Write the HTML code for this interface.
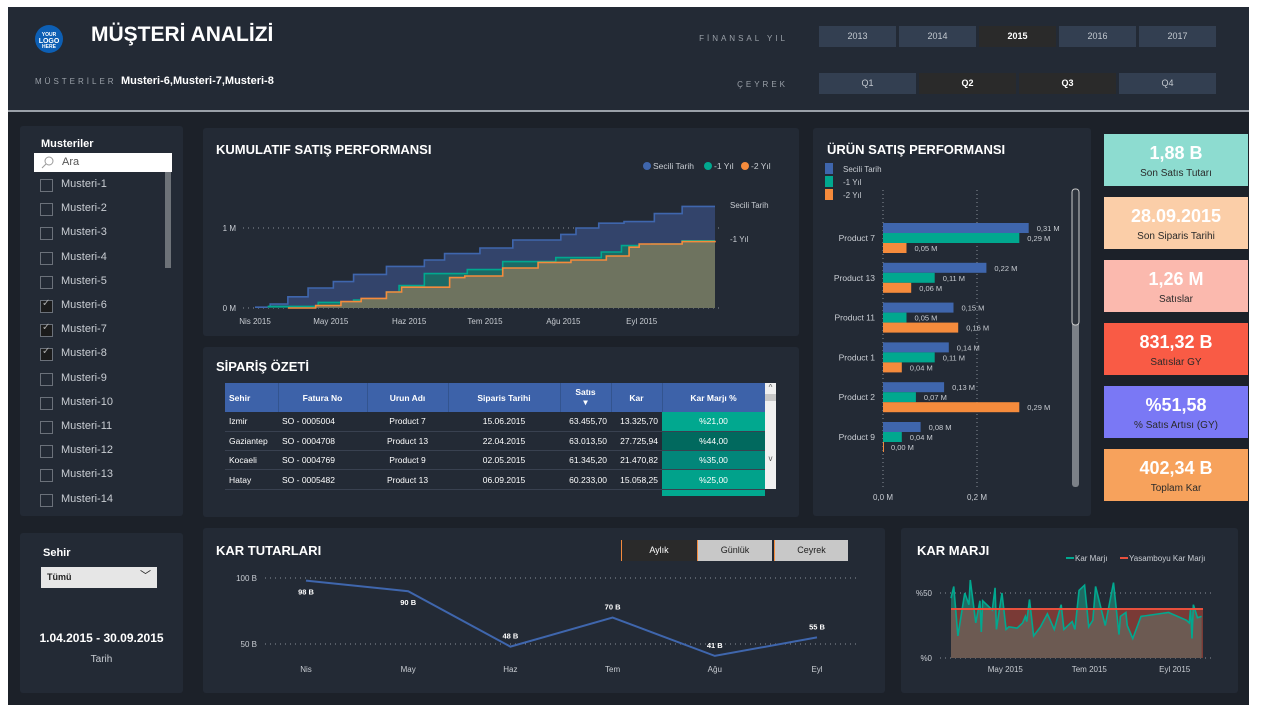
<!DOCTYPE html>
<html><head><meta charset="utf-8">
<style>
*{box-sizing:border-box;margin:0;padding:0}
body{width:1261px;height:713px;background:#fff;font-family:"Liberation Sans",sans-serif;position:relative;overflow:hidden;color:#fff}
.abs{position:absolute}
#frame{left:8px;top:7px;width:1241px;height:698px;background:#1c2129}
#header{left:8px;top:7px;width:1241px;height:103px;background:#232a35}
#sep{left:8px;top:110px;width:1241px;height:2px;background:#9aa0a8}
.panel{position:absolute;background:#232a35;border-radius:3px}
.ttl{position:absolute;font-weight:bold;font-size:13px;color:#fff}
.btn{position:absolute;height:21px;background:#333f51;color:#c4c9d0;font-size:9px;text-align:center;line-height:21px}
.btn.sel{background:#2a2a2a;color:#fff;font-weight:bold}
.kpi{position:absolute;left:1104px;width:144px;height:52px;text-align:center}
.kpi .v{font-size:18px;font-weight:bold;color:#fff;margin-top:9px}
.kpi .l{font-size:10px;color:#2a2a2a;margin-top:4px}
.cb{position:absolute;left:40px;width:13px;height:13px;border:1px solid #6b717a}
.cbl{position:absolute;left:61px;font-size:11px;color:#c9cdd3}
table{border-collapse:collapse}
td,th{font-size:8.5px;height:19.3px;padding:0 4px;border-bottom:1px solid #394150}
th{background:#3d62a9;height:29px;font-weight:bold;border-right:1px solid #33548f;border-bottom:none}
</style></head><body>
<div class="abs" id="frame"></div>
<div class="abs" id="header"></div>
<div class="abs" id="sep"></div>

<svg class="abs" style="left:35px;top:25px" width="30" height="30"><circle cx="14" cy="14" r="14" fill="#0d5fb4"/><text x="14" y="11" font-size="5" font-weight="bold" fill="#fff" text-anchor="middle">YOUR</text><text x="14" y="18" font-size="7" font-weight="bold" fill="#fff" text-anchor="middle">LOGO</text><text x="14" y="23" font-size="5" font-weight="bold" fill="#fff" text-anchor="middle">HERE</text></svg>
<div class="abs" style="left:91px;top:23px;font-size:21px;font-weight:bold">MÜŞTERİ ANALİZİ</div>
<div class="abs" style="left:35px;top:77px;font-size:8px;letter-spacing:3px;color:#9aa0a8">MÜSTERİLER</div>
<div class="abs" style="left:121px;top:75px;font-size:11px;font-weight:bold">Musteri-6,Musteri-7,Musteri-8</div>
<div class="abs" style="left:690px;top:34px;width:98px;text-align:right;font-size:8px;letter-spacing:3px;color:#9aa0a8">FİNANSAL YIL</div>
<div class="abs" style="left:690px;top:80px;width:98px;text-align:right;font-size:8px;letter-spacing:3px;color:#9aa0a8">ÇEYREK</div>
<div class="btn" style="left:819px;top:26px;width:77px">2013</div>
<div class="btn" style="left:899px;top:26px;width:77px">2014</div>
<div class="btn sel" style="left:979px;top:26px;width:77px">2015</div>
<div class="btn" style="left:1059px;top:26px;width:77px">2016</div>
<div class="btn" style="left:1139px;top:26px;width:77px">2017</div>
<div class="btn" style="left:819px;top:73px;width:97px">Q1</div>
<div class="btn sel" style="left:919px;top:73px;width:97px">Q2</div>
<div class="btn sel" style="left:1019px;top:73px;width:97px">Q3</div>
<div class="btn" style="left:1119px;top:73px;width:97px">Q4</div>

<div class="panel" style="left:20px;top:126px;width:163px;height:390px"></div>
<div class="abs" style="left:41px;top:138px;font-size:11px;font-weight:bold">Musteriler</div>
<div class="abs" style="left:34px;top:153px;width:138px;height:19px;background:#fff;color:#555;font-size:11px;line-height:19px;padding-left:28px">Ara</div>
<svg class="abs" style="left:41px;top:155px" width="14" height="14"><circle cx="8" cy="6" r="4" stroke="#999" fill="none"/><line x1="5" y1="9" x2="1" y2="13" stroke="#999"/></svg>
<div class="abs" style="left:165px;top:172px;width:6px;height:96px;background:#6d7278"></div>
<div id="custlist"></div>

<div class="panel" style="left:20px;top:533px;width:163px;height:160px"></div>
<div class="abs" style="left:43px;top:547px;font-size:11px;font-weight:bold">Sehir</div>
<div class="abs" style="left:41px;top:567px;width:116px;height:21px;background:#e6e6e6;color:#222;font-size:9px;font-weight:bold;line-height:21px;padding-left:6px">Tümü<span style="position:absolute;right:6px;top:-1px;font-weight:normal;font-size:11px">﹀</span></div>
<div class="abs" style="left:20px;top:631px;width:163px;text-align:center;font-size:12px;font-weight:bold">1.04.2015 - 30.09.2015</div>
<div class="abs" style="left:20px;top:654px;width:163px;text-align:center;font-size:10px;color:#c9cdd3">Tarih</div>

<div class="panel" style="left:203px;top:128px;width:596px;height:208px"></div>
<div class="ttl" style="left:216px;top:142px">KUMULATIF SATIŞ PERFORMANSI</div>
<div class="panel" style="left:203px;top:347px;width:596px;height:170px"></div>
<div class="ttl" style="left:216px;top:359px">SİPARİŞ ÖZETİ</div>
<div class="panel" style="left:813px;top:128px;width:278px;height:388px"></div>
<div class="ttl" style="left:827px;top:142px">ÜRÜN SATIŞ PERFORMANSI</div>
<div class="panel" style="left:203px;top:528px;width:682px;height:165px"></div>
<div class="ttl" style="left:216px;top:543px">KAR TUTARLARI</div>
<div class="panel" style="left:901px;top:528px;width:337px;height:165px"></div>
<div class="ttl" style="left:917px;top:543px">KAR MARJI</div>

<div class="abs" style="left:621px;top:540px;width:75px;height:21px;background:#2a2a2a;border-left:1px solid #f58b3c;font-size:9px;text-align:center;line-height:21px">Aylık</div>
<div class="abs" style="left:697px;top:540px;width:75px;height:21px;background:#c8c8c8;color:#222;border-left:1px solid #f58b3c;font-size:9px;text-align:center;line-height:21px">Günlük</div>
<div class="abs" style="left:774px;top:540px;width:74px;height:21px;background:#c8c8c8;color:#222;border-left:1px solid #f58b3c;font-size:9px;text-align:center;line-height:21px">Ceyrek</div>

<div class="kpi" style="top:134px;background:#8ddcd0"><div class="v">1,88 B</div><div class="l">Son Satıs Tutarı</div></div>
<div class="kpi" style="top:197px;background:#fbcea8"><div class="v">28.09.2015</div><div class="l">Son Siparis Tarihi</div></div>
<div class="kpi" style="top:260px;background:#fbb9ae"><div class="v">1,26 M</div><div class="l">Satıslar</div></div>
<div class="kpi" style="top:323px;background:#f95b45"><div class="v">831,32 B</div><div class="l">Satıslar GY</div></div>
<div class="kpi" style="top:386px;background:#7a78f5"><div class="v">%51,58</div><div class="l">% Satıs Artısı (GY)</div></div>
<div class="kpi" style="top:449px;background:#f7a25c"><div class="v">402,34 B</div><div class="l">Toplam Kar</div></div>

<div class="abs" style="left:225px;top:383px">
<table>
<tr><th style="width:53px;text-align:left">Sehir</th><th style="width:89px">Fatura No</th><th style="width:81px">Urun Adı</th><th style="width:112px">Siparis Tarihi</th><th style="width:51px">Satıs<br>▾</th><th style="width:51px">Kar</th><th style="width:103px">Kar Marjı %</th></tr>
<tr><td>Izmir</td><td>SO - 0005004</td><td style="text-align:center">Product 7</td><td style="text-align:center">15.06.2015</td><td style="text-align:right">63.455,70</td><td style="text-align:right">13.325,70</td><td style="text-align:center;background:#01a88f">%21,00</td></tr>
<tr><td>Gaziantep</td><td>SO - 0004708</td><td style="text-align:center">Product 13</td><td style="text-align:center">22.04.2015</td><td style="text-align:right">63.013,50</td><td style="text-align:right">27.725,94</td><td style="text-align:center;background:#01695e">%44,00</td></tr>
<tr><td>Kocaeli</td><td>SO - 0004769</td><td style="text-align:center">Product 9</td><td style="text-align:center">02.05.2015</td><td style="text-align:right">61.345,20</td><td style="text-align:right">21.470,82</td><td style="text-align:center;background:#02867a">%35,00</td></tr>
<tr><td>Hatay</td><td>SO - 0005482</td><td style="text-align:center">Product 13</td><td style="text-align:center">06.09.2015</td><td style="text-align:right">60.233,00</td><td style="text-align:right">15.058,25</td><td style="text-align:center;background:#01a28b">%25,00</td></tr>
</table></div>
<div class="abs" style="left:662px;top:490px;width:103px;height:6px;background:#01a88f"></div>
<div class="abs" style="left:765px;top:383px;width:11px;height:106px;background:#f0f0f0;color:#555;font-size:8px;text-align:center">^<div style="height:7px;background:#c8c8c8;margin-top:2px"></div><div style="margin-top:53px">v</div></div>

<svg id="svg" class="abs" style="left:0;top:0" width="1261" height="713"></svg>

<script>
const customers=["Musteri-1","Musteri-2","Musteri-3","Musteri-4","Musteri-5","Musteri-6","Musteri-7","Musteri-8","Musteri-9","Musteri-10","Musteri-11","Musteri-12","Musteri-13","Musteri-14"];
const checked=[5,6,7];
const cl=document.getElementById('custlist');
customers.forEach((c,i)=>{
  const y=179+i*24.2;
  const b=document.createElement('div');b.className='cb';b.style.top=y+'px';
  
  
  if(checked.includes(i)){b.style.background='#1b1b1b';b.innerHTML='<span style="position:absolute;left:1px;top:-3px;font-size:10px;color:#aaa">✓</span>';}
  cl.appendChild(b);
  const t=document.createElement('div');t.className='cbl';t.style.top=(y-1)+'px';t.textContent=c;
  
  
  cl.appendChild(t);
});

const S=document.getElementById('svg');const NS='http://www.w3.org/2000/svg';
function mk(tag,attrs,parent){const e=document.createElementNS(NS,tag);for(const k in attrs)e.setAttribute(k,attrs[k]);(parent||S).appendChild(e);return e;}
function txt(x,y,s,attrs){const e=mk('text',Object.assign({x:x,y:y,fill:'#c9cdd3','font-size':8,'font-family':'Liberation Sans, sans-serif'},attrs||{}));e.textContent=s;return e;}

const cumMonths=["Nis 2015","May 2015","Haz 2015","Tem 2015","Ağu 2015","Eyl 2015"];
const cumMonthDays=[0,30,61,91,122,153];
const cumYTicks=[0,1];
const cumYLabels=["0 M","1 M"];
const selDays=[0,6,13,21,31,39,52,67,75,89,102,121,127,136,146,158,169,182];
const selVals=[0.01,0.05,0.14,0.25,0.33,0.42,0.52,0.6,0.68,0.75,0.85,0.92,1.0,1.06,1.08,1.18,1.27,1.27];
const py1Days=[5,25,39,52,57,67,84,98,119,137,145,157,169,182];
const py1Vals=[0.02,0.07,0.1,0.2,0.28,0.43,0.48,0.58,0.63,0.7,0.78,0.8,0.84,0.84];
const py2Days=[13,24,34,42,52,58,77,83,98,112,125,139,148,152,169,182];
const py2Vals=[0.0,0.03,0.08,0.12,0.2,0.26,0.38,0.4,0.5,0.57,0.6,0.65,0.76,0.8,0.83,0.84];
const cx=d=>255+d*(460/182), cy=v=>308-v*80;
const gcum=mk('g',{});


cumYTicks.forEach((t,i)=>{mk('line',{x1:243,x2:722,y1:cy(t),y2:cy(t),stroke:'#8a9099','stroke-dasharray':'1 4'},gcum);txt(236,cy(t)+3,cumYLabels[i],{'text-anchor':'end'});});
cumMonths.forEach((m,i)=>{const t=txt(cx(cumMonthDays[i]),324,m,{'text-anchor':'middle'});});
function stepPts(ds,vs){let p=[];ds.forEach((d,i)=>{if(i>0)p.push([cx(d),cy(vs[i-1])]);p.push([cx(d),cy(vs[i])]);});return p;}
function area(ds,vs,fill,stroke,name){const p=stepPts(ds,vs);const a=mk('path',{d:'M'+cx(ds[0])+','+cy(0)+' L'+p.map(q=>q.join(',')).join(' L')+' L'+cx(ds[ds.length-1])+','+cy(0)+'Z',fill:fill},gcum);
 const l=mk('polyline',{points:p.map(q=>q.join(',')).join(' '),fill:'none',stroke:stroke,'stroke-width':1.6},gcum);}
area(selDays,selVals,'#33446b','#3f66ad','selected-date');
area(py1Days,py1Vals,'#1c6a66','#01a88f','prior-year-1');
area(py2Days,py2Vals,'#6e735f','#f58b3c','prior-year-2');
txt(730,208,'Secili Tarih',{'font-size':8});txt(730,242,'-1 Yıl',{'font-size':8});
[['Secili Tarih','#3f66ad',643],['-1 Yıl','#01a88f',704],['-2 Yıl','#f58b3c',741]].forEach(l=>{const c=mk('circle',{cx:l[2]+4,cy:166,r:4,fill:l[1]});txt(l[2]+10,169,l[0],{'font-size':8.5});});

const products=["Product 7","Product 13","Product 11","Product 1","Product 2","Product 9"];
const barSel=[0.31,0.22,0.15,0.14,0.13,0.08];
const barPy1=[0.29,0.11,0.05,0.11,0.07,0.04];
const barPy2=[0.05,0.06,0.16,0.04,0.29,0.00];
const barTicks=[0,0.2];
const bx=v=>883+v*470;
const gb=mk('g',{});


barTicks.forEach(t=>{mk('line',{x1:bx(t),x2:bx(t),y1:190,y2:488,stroke:'#8a9099','stroke-dasharray':'1 3'},gb);txt(bx(t),500,t.toFixed(1).replace('.',',')+' M',{'text-anchor':'middle'});});
products.forEach((p,i)=>{const yc=238+i*39.8;txt(875,yc+3,p,{'text-anchor':'end','font-size':8.5});
 [[barSel,'#3f66ad'],[barPy1,'#01a88f'],[barPy2,'#f58b3c']].forEach((s,j)=>{const v=s[0][i];const y=yc-15+j*10;
  const r=mk('rect',{x:bx(0),y:y,width:Math.max(v*470,1),height:10,fill:s[1]},gb);
  
  
  txt(bx(v)+8,y+8,v.toFixed(2).replace('.',',')+' M',{'font-size':7.5});});});
[['Secili Tarih','#3f66ad',167],['-1 Yıl','#01a88f',180],['-2 Yıl','#f58b3c',193]].forEach(l=>{const r=mk('rect',{x:825,y:l[2]-4,width:8,height:11,fill:l[1]});txt(843,l[2]+5,l[0]);});
const sb=mk('rect',{x:1072,y:189,width:7,height:298,rx:3,fill:'#7b8087'});
mk('rect',{x:1072,y:189,width:7,height:136,rx:3,fill:'#2d333c',stroke:'#ccc'});

const profMonths=["Nis","May","Haz","Tem","Ağu","Eyl"];
const profVals=[98,90,48,70,41,55];
const profTicks=[50,100];
const px=i=>306+i*102.2, py=v=>644-(v-50)*1.32;
const gp=mk('g',{});


profTicks.forEach(t=>{mk('line',{x1:265,x2:857,y1:py(t),y2:py(t),stroke:'#8a9099','stroke-dasharray':'1 4'},gp);txt(257,py(t)+3,t+' B',{'text-anchor':'end'});});
profMonths.forEach((m,i)=>txt(px(i),672,m,{'text-anchor':'middle'}));
const pl=mk('polyline',{points:profVals.map((v,i)=>px(i)+','+py(v)).join(' '),fill:'none',stroke:'#3f66ad','stroke-width':2},gp);


profVals.forEach((v,i)=>{const above=i>=2;txt(px(i),py(v)+(above? -8:14),v+' B',{'text-anchor':'middle','font-size':7.5,'font-weight':'bold',fill:'#fff'});});

const marginDays=[0,2,5,10,13,14,18,21,22,23,30,32,33,37,40,42,48,52,54,55,57,60,65,70,75,80,82,88,90,93,97,100,103,105,112,118,122,123,127,128,132,138,158,171,173,174,175,176,179,182];
const marginVals=[46,55,17,50,41,60,27,44,20,44,37,54,22,50,22,24,23,27,32,28,45,17,24,34,22,41,22,28,22,52,56,24,29,55,25,58,18,32,35,25,15,32,35,29,27,38,15,41,31,32];
const lifetimeMargin=[37.7];
const marginTicks=[0,50];
const mx=d=>951+d*(252/183), my=v=>658-v*1.3;
const gm=mk('g',{});


marginTicks.forEach(t=>{mk('line',{x1:940,x2:1212,y1:my(t),y2:my(t),stroke:'#8a9099','stroke-dasharray':'1 4'},gm);txt(932,my(t)+3,'%'+t,{'text-anchor':'end'});});
[["May 2015",30],["Tem 2015",91],["Eyl 2015",153]].forEach(m=>txt(mx(m[1])+13,672,m[0],{'text-anchor':'middle'}));
const lm=lifetimeMargin[0];
const mpts=marginDays.map((d,i)=>mx(d)+','+my(marginVals[i])).join(' ');
mk('path',{d:'M'+mx(0)+','+my(0)+' L'+mpts.split(' ').join(' L')+' L'+mx(182)+','+my(0)+'Z',fill:'#1f6a62'},gm);
mk('rect',{x:mx(0),y:my(lm),width:mx(183)-mx(0),height:my(0)-my(lm),fill:'#7a3a36'},gm);
const defs=mk('defs',{});const cp=mk('clipPath',{id:'mclip'},defs);mk('rect',{x:940,y:my(lm),width:280,height:my(0)-my(lm)},cp);
mk('path',{d:'M'+mx(0)+','+my(0)+' L'+mpts.split(' ').join(' L')+' L'+mx(182)+','+my(0)+'Z',fill:'#6c5a52','clip-path':'url(#mclip)'},gm);
const ml=mk('polyline',{points:mpts,fill:'none',stroke:'#01a88f','stroke-width':1.6},gm);


const ll=mk('line',{x1:mx(0),x2:mx(183),y1:my(lm),y2:my(lm),stroke:'#e8503d','stroke-width':2},gm);


mk('line',{x1:1066,x2:1074,y1:558,y2:558,stroke:'#01a88f','stroke-width':2});txt(1075,561,'Kar Marjı',{'font-size':8});
mk('line',{x1:1120,x2:1128,y1:558,y2:558,stroke:'#e8503d','stroke-width':2});txt(1129,561,'Yasamboyu Kar Marjı',{'font-size':8});
</script>
</body></html>
